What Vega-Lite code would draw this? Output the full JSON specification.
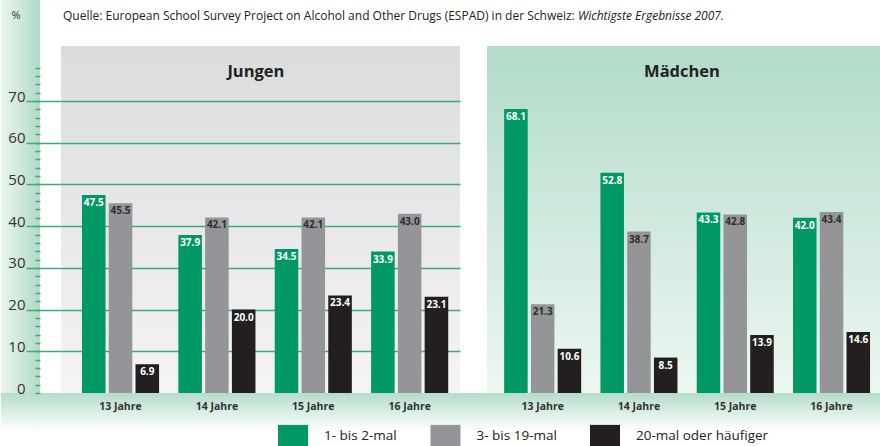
{
  "$schema": "https://vega.github.io/schema/vega-lite/v6.json",
  "padding": 0,
  "background": "white",
  "bounds": "flush",
  "spacing": 27,
  "config": {"font": "Open Sans", "view": {"stroke": null}},
  "data": {"values": [
    {"g": "Jungen", "age": "13 Jahre", "type": "1- bis 2-mal", "v": 47.5},
    {"g": "Jungen", "age": "13 Jahre", "type": "3- bis 19-mal", "v": 45.5},
    {"g": "Jungen", "age": "13 Jahre", "type": "20-mal oder häufiger", "v": 6.9},
    {"g": "Jungen", "age": "14 Jahre", "type": "1- bis 2-mal", "v": 37.9},
    {"g": "Jungen", "age": "14 Jahre", "type": "3- bis 19-mal", "v": 42.1},
    {"g": "Jungen", "age": "14 Jahre", "type": "20-mal oder häufiger", "v": 20.0},
    {"g": "Jungen", "age": "15 Jahre", "type": "1- bis 2-mal", "v": 34.5},
    {"g": "Jungen", "age": "15 Jahre", "type": "3- bis 19-mal", "v": 42.1},
    {"g": "Jungen", "age": "15 Jahre", "type": "20-mal oder häufiger", "v": 23.4},
    {"g": "Jungen", "age": "16 Jahre", "type": "1- bis 2-mal", "v": 33.9},
    {"g": "Jungen", "age": "16 Jahre", "type": "3- bis 19-mal", "v": 43.0},
    {"g": "Jungen", "age": "16 Jahre", "type": "20-mal oder häufiger", "v": 23.1},
    {"g": "Mädchen", "age": "13 Jahre", "type": "1- bis 2-mal", "v": 68.1},
    {"g": "Mädchen", "age": "13 Jahre", "type": "3- bis 19-mal", "v": 21.3},
    {"g": "Mädchen", "age": "13 Jahre", "type": "20-mal oder häufiger", "v": 10.6},
    {"g": "Mädchen", "age": "14 Jahre", "type": "1- bis 2-mal", "v": 52.8},
    {"g": "Mädchen", "age": "14 Jahre", "type": "3- bis 19-mal", "v": 38.7},
    {"g": "Mädchen", "age": "14 Jahre", "type": "20-mal oder häufiger", "v": 8.5},
    {"g": "Mädchen", "age": "15 Jahre", "type": "1- bis 2-mal", "v": 43.3},
    {"g": "Mädchen", "age": "15 Jahre", "type": "3- bis 19-mal", "v": 42.8},
    {"g": "Mädchen", "age": "15 Jahre", "type": "20-mal oder häufiger", "v": 13.9},
    {"g": "Mädchen", "age": "16 Jahre", "type": "1- bis 2-mal", "v": 42.0},
    {"g": "Mädchen", "age": "16 Jahre", "type": "3- bis 19-mal", "v": 43.4},
    {"g": "Mädchen", "age": "16 Jahre", "type": "20-mal oder häufiger", "v": 14.6}
  ]},
  "resolve": {"scale": {"x": "independent", "xOffset": "independent", "y": "shared", "color": "shared"}},
  "hconcat": [
    {
      "width": 399,
      "height": 347,
      "view": {"stroke": null, "fill": {"gradient": "linear", "x1": 0, "y1": 0, "x2": 0, "y2": 1, "stops": [{"offset": 0, "color": "#dbdcde"}, {"offset": 1, "color": "#f4f4f5"}]}},
      "resolve": {"axis": {"y": "independent", "x": "independent"}},
      "layer": [
        {
          "data": {"values": [{}]},
          "mark": {"type": "rect", "fill": {"gradient": "linear", "x1": 0, "y1": 0, "x2": 1, "y2": 0, "stops": [{"offset": 0, "color": "#ecf6f0"}, {"offset": 1, "color": "#b1dac7"}]}},
          "encoding": {
            "x": {"datum": "13 Jahre", "type": "nominal", "bandPosition": -1.0506, "axis": null},
            "x2": {"datum": "13 Jahre", "bandPosition": -0.5447},
            "y": {"datum": -9, "type": "quantitative", "axis": null},
            "y2": {"datum": 94.2}
          }
        },
        {
          "data": {"values": [{}]},
          "mark": {"type": "rect", "fill": {"gradient": "linear", "x1": 0, "y1": 0, "x2": 0, "y2": 1, "stops": [{"offset": 0, "color": "#b4dcc9"}, {"offset": 1, "color": "#ffffff"}]}},
          "encoding": {
            "x": {"datum": "13 Jahre", "type": "nominal", "bandPosition": -1.0506, "axis": null},
            "x2": {"datum": "16 Jahre", "bandPosition": 1.503},
            "y": {"datum": 0, "type": "quantitative", "axis": null},
            "y2": {"datum": -9}
          }
        },
        {
          "transform": [{"filter": "datum.g === 'Jungen'"}],
          "mark": {"type": "bar"},
          "encoding": {
            "x": {"field": "age", "type": "nominal", "sort": null,
              "scale": {"domain": ["13 Jahre", "14 Jahre", "15 Jahre", "16 Jahre"], "paddingInner": 0.2, "paddingOuter": 0.17, "align": 0.64},
              "axis": {"title": null, "ticks": false, "tickSize": 0, "domain": false, "labelPadding": 8, "labelAngle": 0, "labelFont": "Open Sans", "labelFontSize": 10.5, "labelFontWeight": "bold", "labelColor": "#333333", "labelDx": -3, "zindex": 1}},
            "xOffset": {"field": "type", "type": "nominal", "sort": null,
              "scale": {"domain": ["1- bis 2-mal", "3- bis 19-mal", "20-mal oder häufiger"], "paddingInner": 0.12, "paddingOuter": 0}},
            "y": {"field": "v", "type": "quantitative", "scale": {"domain": [0, 83.2], "nice": false},
              "axis": {"orient": "left", "offset": 21, "zindex": 1, "title": null, "grid": false, "domain": false,
                "values": [0, 2, 4, 6, 8, 10, 12, 14, 16, 18, 20, 22, 24, 26, 28, 30, 32, 34, 36, 38, 40, 42, 44, 46, 48, 50, 52, 54, 56, 58, 60, 62, 64, 66, 68, 70, 72, 74, 76, 78],
                "tickSize": 5, "tickColor": "#3fa97c", "tickWidth": 1.5,
                "labelExpr": "(datum.value % 10 === 0 && datum.value <= 70) ? datum.label : ''",
                "labelOverlap": false, "labelPadding": 10, "labelFont": "Open Sans", "labelFontSize": 15, "labelColor": "#333333", "labelBaseline": "alphabetic"}},
            "color": {"field": "type", "type": "nominal", "sort": null,
              "scale": {"domain": ["1- bis 2-mal", "3- bis 19-mal", "20-mal oder häufiger"], "range": ["#009966", "#939598", "#231f20"]},
              "legend": {"orient": "none", "legendX": 219.5, "legendY": 377.5, "direction": "horizontal", "title": null, "padding": 0,
                "symbolType": "M-1.2,-0.9H1.2V0.9H-1.2Z", "symbolSize": 625, "symbolStrokeWidth": 0, "symbolOpacity": 1,
                "labelFont": "Open Sans", "labelFontSize": 13.5, "labelColor": "#222222", "labelOffset": 18.5, "columnPadding": 32.5, "labelLimit": 400}}
          }
        },
        {
          "transform": [{"filter": "datum.g === 'Jungen'"}],
          "mark": {"type": "text", "font": "Open Sans", "fontSize": 10, "fontWeight": "bold", "baseline": "middle", "dy": 8},
          "encoding": {
            "x": {"field": "age", "type": "nominal", "sort": null, "axis": null},
            "xOffset": {"field": "type", "type": "nominal", "sort": null},
            "y": {"field": "v", "type": "quantitative",
              "axis": {"orient": "left", "offset": 21, "zindex": 1, "title": null, "grid": false, "domain": false, "labels": false,
                "values": [10, 20, 30, 40, 50, 60, 70], "tickSize": 14, "tickColor": "#3fa97c", "tickWidth": 1.5}},
            "text": {"field": "v", "type": "quantitative", "format": ".1f"},
            "fill": {"condition": {"test": "datum.type === '3- bis 19-mal'", "value": "#2d2d2d"}, "value": "#ffffff"}
          }
        },
        {
          "data": {"values": [{}]},
          "mark": {"type": "text", "text": "Jungen", "font": "Open Sans", "fontSize": 16.5, "fontWeight": "bold", "color": "#222222", "align": "center", "baseline": "middle"},
          "encoding": {
            "x": {"datum": "14 Jahre", "type": "nominal", "bandPosition": 1.006, "axis": null},
            "y": {"datum": 77.0, "type": "quantitative",
              "axis": {"orient": "left", "offset": 0, "zindex": 0, "title": null, "grid": true, "gridColor": "#3fa97c", "gridWidth": 1.5, "domain": false, "labels": false,
                "values": [10, 20, 30, 40, 50, 60, 70], "tickSize": 21, "tickColor": "#3fa97c", "tickWidth": 1.5}}
          }
        },
        {
          "data": {"values": [{}]},
          "mark": {"type": "text", "text": "Quelle: European School Survey Project on Alcohol and Other Drugs (ESPAD) in der Schweiz:", "font": "Open Sans", "fontSize": 12, "color": "#222222", "align": "left", "baseline": "middle"},
          "encoding": {
            "x": {"datum": "13 Jahre", "type": "nominal", "bandPosition": -0.246, "axis": null},
            "y": {"datum": 90.4, "type": "quantitative", "axis": null}
          }
        },
        {
          "data": {"values": [{}]},
          "mark": {"type": "text", "text": "Wichtigste Ergebnisse 2007.", "font": "Open Sans", "fontSize": 12, "fontStyle": "italic", "color": "#222222", "align": "left", "baseline": "middle"},
          "encoding": {
            "x": {"datum": "13 Jahre", "type": "nominal", "bandPosition": 6.433, "axis": null},
            "y": {"datum": 90.4, "type": "quantitative", "axis": null}
          }
        },
        {
          "data": {"values": [{}]},
          "mark": {"type": "text", "text": "%", "font": "Open Sans", "fontSize": 11, "color": "#333333", "align": "center", "baseline": "middle"},
          "encoding": {
            "x": {"datum": "13 Jahre", "type": "nominal", "bandPosition": -0.856, "axis": null},
            "y": {"datum": 90.4, "type": "quantitative", "axis": null}
          }
        }
      ]
    },
    {
      "width": 394,
      "height": 347,
      "view": {"stroke": null, "fill": {"gradient": "linear", "x1": 0, "y1": 0, "x2": 0, "y2": 1, "stops": [{"offset": 0, "color": "#b2dbc9"}, {"offset": 1, "color": "#edf7f2"}]}},
      "layer": [
        {
          "data": {"values": [{}]},
          "mark": {"type": "rect", "fill": {"gradient": "linear", "x1": 0, "y1": 0, "x2": 0, "y2": 1, "stops": [{"offset": 0, "color": "#b4dcc9"}, {"offset": 1, "color": "#ffffff"}]}},
          "encoding": {
            "y": {"datum": 0, "type": "quantitative", "axis": null},
            "y2": {"datum": -9}
          }
        },
        {
          "transform": [{"filter": "datum.g === 'Mädchen'"}],
          "mark": {"type": "bar"},
          "encoding": {
            "x": {"field": "age", "type": "nominal", "sort": null,
              "scale": {"domain": ["13 Jahre", "14 Jahre", "15 Jahre", "16 Jahre"], "paddingInner": 0.2, "paddingOuter": 0.146, "align": 0.61},
              "axis": {"title": null, "ticks": false, "tickSize": 0, "domain": false, "labelPadding": 8, "labelAngle": 0, "labelFont": "Open Sans", "labelFontSize": 10.5, "labelFontWeight": "bold", "labelColor": "#333333", "labelDx": 8, "zindex": 1}},
            "xOffset": {"field": "type", "type": "nominal", "sort": null,
              "scale": {"domain": ["1- bis 2-mal", "3- bis 19-mal", "20-mal oder häufiger"], "paddingInner": 0.12, "paddingOuter": 0}},
            "y": {"field": "v", "type": "quantitative", "scale": {"domain": [0, 83.2], "nice": false},
              "axis": {"orient": "left", "offset": 0, "zindex": 0, "title": null, "grid": true, "gridColor": "#3fa97c", "gridWidth": 1.5, "domain": false, "labels": false,
                "values": [10, 20, 30, 40, 50, 60, 70], "tickSize": 27, "tickColor": "#3fa97c", "tickWidth": 1.5}},
            "color": {"field": "type", "type": "nominal", "sort": null, "legend": null}
          }
        },
        {
          "transform": [{"filter": "datum.g === 'Mädchen'"}],
          "mark": {"type": "text", "font": "Open Sans", "fontSize": 10, "fontWeight": "bold", "baseline": "middle", "dy": 8},
          "encoding": {
            "x": {"field": "age", "type": "nominal", "sort": null},
            "xOffset": {"field": "type", "type": "nominal", "sort": null},
            "y": {"field": "v", "type": "quantitative"},
            "text": {"field": "v", "type": "quantitative", "format": ".1f"},
            "fill": {"condition": {"test": "datum.type === '3- bis 19-mal'", "value": "#2d2d2d"}, "value": "#ffffff"}
          }
        },
        {
          "data": {"values": [{}]},
          "mark": {"type": "text", "text": "Mädchen", "font": "Open Sans", "fontSize": 16.5, "fontWeight": "bold", "color": "#222222", "align": "center", "baseline": "middle"},
          "encoding": {
            "x": {"datum": "14 Jahre", "type": "nominal", "bandPosition": 1.059},
            "y": {"datum": 77.0, "type": "quantitative"}
          }
        }
      ]
    }
  ]
}
